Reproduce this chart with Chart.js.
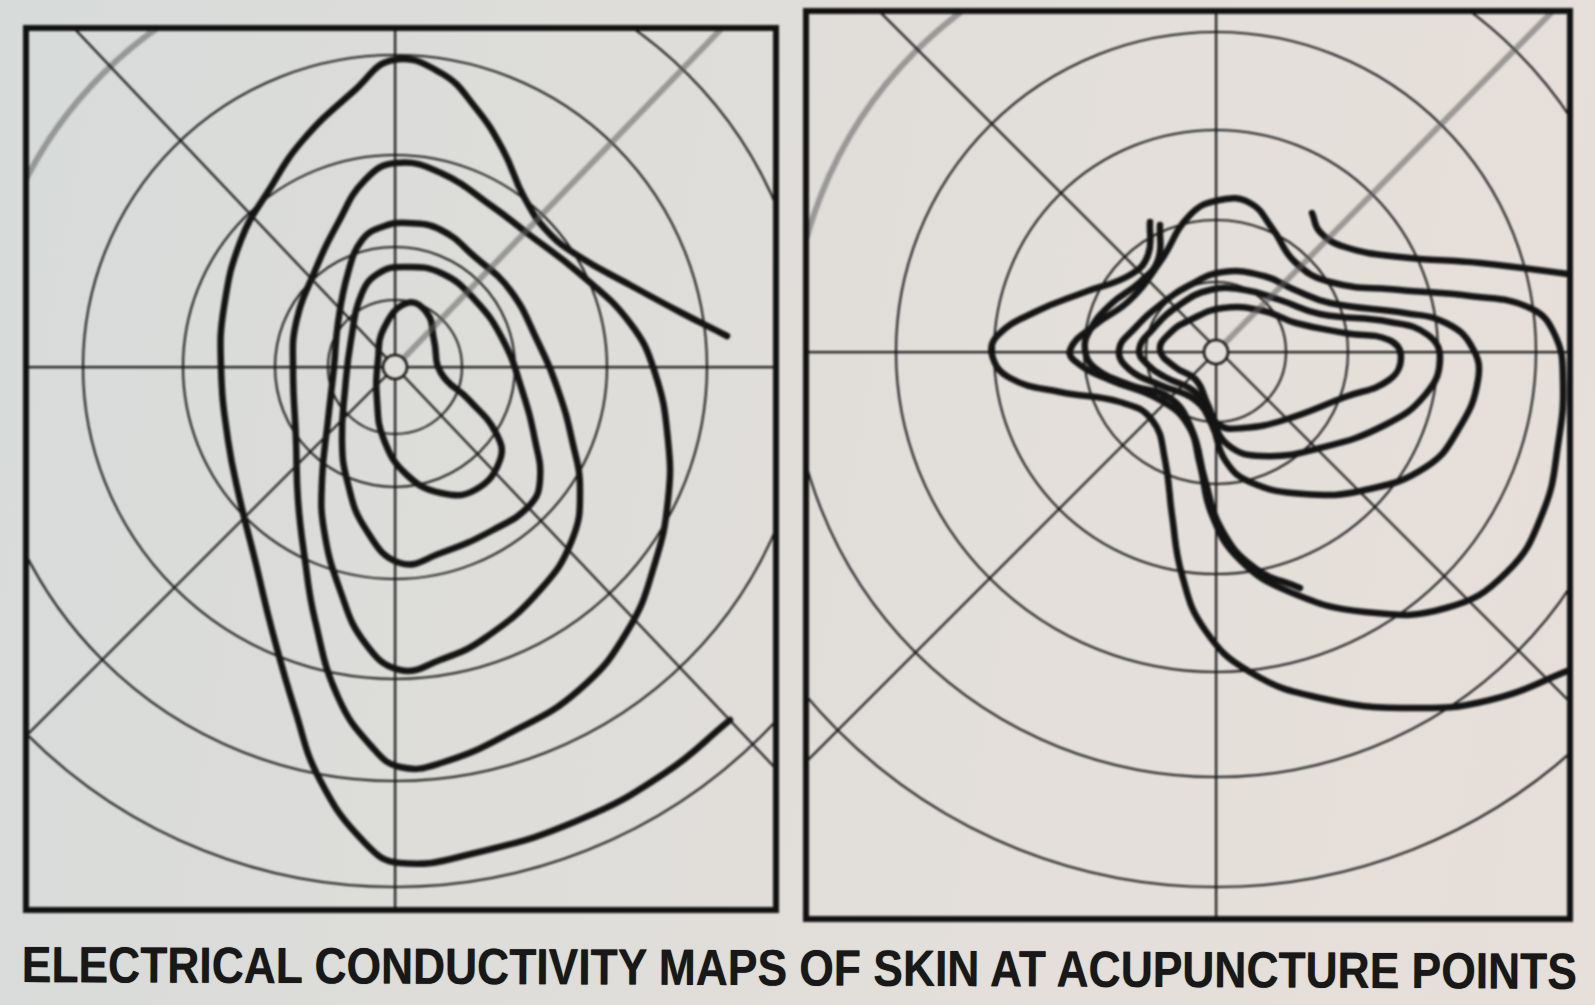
<!DOCTYPE html>
<html>
<head>
<meta charset="utf-8">
<script src="https://cdn.jsdelivr.net/npm/chart.js@4.4.1/dist/chart.umd.min.js"></script>
<style>
  html, body { margin: 0; padding: 0; width: 1595px; height: 1005px; overflow: hidden; }
  body {
    position: relative;
    background: linear-gradient(100deg, #d7dbda 0%, #dedddA 35%, #e4dfda 70%, #e7dfd9 100%);
  }
  .panel { position: absolute; }
  .panel canvas { filter: blur(0.8px); }
  #caption {
    position: absolute; left: 22px; top: 939px;
    font: bold 51px 'Liberation Sans Narrow', 'Liberation Sans', Arial, sans-serif;
    line-height: 51px; white-space: nowrap; color: #181818;
    transform-origin: 0 0; text-shadow: 0 0 1px rgba(0,0,0,0.6);
  }
</style>
</head>
<body>
<div class="panel" id="p1" style="left:23px;top:25px;width:756px;height:888px"><canvas id="c1"></canvas></div>
<div class="panel" id="p2" style="left:803px;top:8px;width:770px;height:914px"><canvas id="c2"></canvas></div>
<div id="caption">ELECTRICAL CONDUCTIVITY MAPS OF SKIN AT ACUPUNCTURE POINTS</div>

<script>
// Map extents in map units (point of measurement at 0,0; y grows upward)
const leftExtent  = { xMin: -37.2, xMax: 38.4, yMin: -54.6, yMax: 34.2 };
const rightExtent = { xMin: -41.3, xMax: 35.7, yMin: -57.0, yMax: 34.4 };

// Reference rings around the point
const leftRings  = [1.2, 6.7, 12, 21.2, 31.2, 41.4, 52];
const rightRings = [1.2, 7, 13.2, 22.2, 32, 42.5, 53.5];

// Diagonal guide lines (end points)
const leftDiagonal      = [[-32.4, 34.2], [38.4, -40.5]];
const leftAntiDiagLow   = [[0, 0], [-37.2, -37.2]];
const leftAntiDiagHigh  = [[0, 0], [33.0, 34.2]];
const rightDiagonal     = [[-34.0, 34.4], [35.7, -35.3]];
const rightAntiDiagLow  = [[0, 0], [-41.3, -41.3]];
const rightAntiDiagHigh = [[0, 0], [34.0, 34.4]];

// Left map: equal-conductivity contours
const leftInner = [[1.2,6.4],[3.2,5.4],[3.9,2.7],[4.6,-0.6],[7.4,-3.3],[10.1,-6.6],[10.5,-9.3],[8.0,-12.3],
  [4.6,-12.6],[1.2,-10.8],[-1.1,-7.3],[-1.8,-3.3],[-1.7,0.7],[-1.1,3.9]];
const leftSecond = [[0.8,10.0],[4.6,9.4],[8.0,6.7],[10.8,2.7],[12.7,-2.3],[14.0,-7.3],[14.5,-11.3],[13.5,-13.8],
  [9.8,-16.3],[4.6,-18.6],[0.5,-19.6],[-3.0,-16.1],[-4.8,-11.3],[-5.3,-7.3],[-5.0,-2.3],[-4.4,2.7],[-3.3,7.4],[-1.6,9.4]];
const leftThird = [[1.2,14.4],[4.6,13.7],[8.0,11.0],[11.5,7.7],[14.2,2.7],[16.3,-2.3],[17.7,-7.3],[18.5,-12.3],
  [17.7,-17.3],[14.5,-22.3],[9.0,-27.1],[4.5,-29.3],[0.5,-30.3],[-3.0,-27.6],[-5.5,-22.3],[-7.1,-16.3],[-7.3,-11.3],
  [-6.7,-5.3],[-6.1,0],[-5.7,4.4],[-4.7,9.4],[-3.3,12.7],[-1.3,14.0]];
const leftFourth = [[0.1,20.4],[4.6,19.4],[9.8,16.0],[13.2,13.4],[18.4,9.4],[23.5,4.4],[26.0,-0.6],[27.3,-7.3],
  [27.3,-13.3],[26.0,-19.6],[23.3,-26.3],[18.4,-32.3],[11.5,-36.6],[4.6,-39.6],[0.5,-40.0],[-2.3,-38.0],[-5.7,-33.0],
  [-8.0,-25.3],[-9.0,-19.3],[-9.7,-13.3],[-9.9,-7.3],[-10.2,0],[-9.9,4.4],[-8.1,9.4],[-5.7,14.4],[-3.0,18.7]];
const leftOuter = [[33.2,3.1],[28.5,5.5],[23.5,8.2],[18.5,11.0],[15.3,13.5],[12.9,17.0],[10.8,21.7],[8.0,26.0],
  [4.6,29.4],[-0.2,30.7],[-4.0,27.7],[-9.2,22.7],[-12.6,17.7],[-15.4,12.7],[-17.1,6.0],[-17.4,0],[-16.7,-7.3],
  [-15.5,-13.3],[-14.0,-19.3],[-12.3,-26.3],[-10.0,-34.3],[-7.5,-41.3],[-3.0,-47.6],[0.5,-49.6],[8.0,-48.6],
  [18.4,-45.3],[27.0,-40.6],[33.5,-35.3]];

// Right map: equal-conductivity contours
const rightInner = [[-5.6,0.2],[-4.6,1.9],[-2.6,3.2],[0.7,4.4],[4.8,4.1],[8.0,2.9],[12.9,1.9],[17.3,1.2],[18.5,-0.5],
  [17.3,-2.8],[12.9,-4.5],[6.8,-6.8],[2.7,-7.6],[0.3,-7.3],[-0.8,-5.3],[-2.0,-2.8],[-4.1,-1.5]];
const rightSecond = [[-7.7,0.2],[-6.4,2.2],[-3.8,4.6],[-0.6,6.2],[2.9,6.2],[6.4,5.2],[10.4,3.8],[17.4,3.0],[21.2,1.7],
  [22.4,-0.8],[20.9,-4.3],[16.9,-7.3],[10.4,-9.6],[4.6,-10.4],[1.2,-9.3],[-0.6,-6.3],[-2.1,-4.0],[-5.1,-2.5],[-6.8,-1.3]];
const rightThird = [[-9.7,0.2],[-8.1,2.4],[-5.6,4.7],[-2.6,6.7],[0.7,8.0],[4.8,7.6],[7.9,6.2],[11.4,4.9],[18.9,3.9],
  [23.0,2.9],[25.6,0.5],[26.2,-2.8],[24.2,-7.8],[21.0,-11.5],[14.9,-13.8],[8.8,-14.2],[3.4,-13.0],[0.9,-10.8],
  [-0.4,-7.3],[-2.1,-4.8],[-5.6,-3.3],[-8.6,-1.8]];
const rightFourth = [[-14.6,0.2],[-12.1,2.7],[-8.6,5.2],[-5.6,9.0],[-2.6,13.7],[0.4,15.2],[3.4,14.9],[5.6,12.4],
  [7.9,9.0],[11.4,7.0],[18.4,6.2],[25.4,5.6],[31.4,4.4],[33.9,1.7],[34.7,-2.8],[34.2,-9.3],[32.7,-16.0],[29.1,-22.0],
  [23.0,-25.6],[14.9,-26.0],[7.4,-24.0],[2.4,-20.8],[-0.4,-16.3],[-1.6,-11.3],[-2.8,-7.3],[-5.6,-4.8],[-10.6,-2.8],[-13.6,-1.3]];
const rightSpur = [[-5.6,12.7],[-5.8,9.2],[-7.6,7.0],[-10.6,4.7],[-12.6,2.2],[-13.1,0.2],[-12.1,-1.6],[-8.6,-3.3],
  [-4.6,-4.6],[-2.4,-7.8],[-1.1,-12.8],[0.6,-17.8],[3.9,-21.6],[8.4,-23.6]];
const rightOuter = [[-6.6,13.0],[-6.8,9.7],[-8.6,7.7],[-13.1,6.0],[-18.1,4.0],[-21.8,1.7],[-22.4,-0.3],[-20.6,-2.6],
  [-15.6,-4.0],[-9.6,-5.0],[-6.4,-6.8],[-5.1,-10.8],[-4.4,-16.3],[-3.4,-22.3],[-1.1,-27.8],[3.4,-32.0],[10.4,-34.6],
  [19.4,-35.6],[27.4,-34.8],[35.9,-31.6]];
const rightHook = [[9.6,13.9],[10.4,12.0],[12.9,10.5],[18.4,9.5],[26.4,8.9],[35.9,7.7]];

// ---- drawing helpers ----
const INK = '#141414';
const RING = '#1a1a1a';
const toXY = arr => arr.map(([x, y]) => ({ x, y }));

function contour(arr, isClosed) {
  let pts = arr;
  if (isClosed) pts = [...arr, arr[0], arr[1], arr[2]];
  const n = pts.length;
  return {
    data: toXY(pts), showLine: true, pointRadius: 0, borderColor: INK, borderWidth: 6.5,
    tension: 0.45, borderCapStyle: 'round', borderJoinStyle: 'round', clip: 0,
    segment: isClosed ? {
      borderColor: c => (c.p0DataIndex === 0 || c.p1DataIndex === n - 1) ? 'rgba(0,0,0,0)' : undefined
    } : undefined
  };
}
function guide(arr, color, width) {
  return { data: toXY(arr), showLine: true, pointRadius: 0, borderColor: color, borderWidth: width, tension: 0, clip: 0 };
}

// Rings, frame and the hollow centre, drawn with the chart's own scales
const mapDecor = {
  id: 'mapDecor',
  beforeDatasetsDraw(chart, args, opts) {
    const { ctx, chartArea: a, scales: { x, y } } = chart;
    const cx = x.getPixelForValue(0), cy = y.getPixelForValue(0);
    ctx.save();
    ctx.beginPath(); ctx.rect(a.left, a.top, a.right - a.left, a.bottom - a.top); ctx.clip();
    opts.rings.forEach((r, i) => {
      const rx = x.getPixelForValue(r) - cx, ry = cy - y.getPixelForValue(r);
      if (i === opts.fadedRing) {
        ctx.strokeStyle = RING; ctx.lineWidth = 2.1;
        ctx.beginPath(); ctx.ellipse(cx, cy, rx, ry, 0, -Math.PI / 2, Math.PI); ctx.stroke();
        ctx.strokeStyle = 'rgba(95,95,95,0.55)'; ctx.lineWidth = 6;
        ctx.beginPath(); ctx.ellipse(cx, cy, rx, ry, 0, Math.PI, Math.PI * 1.5); ctx.stroke();
      } else {
        ctx.strokeStyle = RING; ctx.lineWidth = 2.1;
        ctx.beginPath(); ctx.ellipse(cx, cy, rx, ry, 0, 0, Math.PI * 2); ctx.stroke();
      }
    });
    ctx.restore();
  },
  afterDatasetsDraw(chart, args, opts) {
    const { ctx, chartArea: a, scales: { x, y } } = chart;
    const cx = x.getPixelForValue(0), cy = y.getPixelForValue(0);
    const r0 = x.getPixelForValue(opts.rings[0]) - cx;
    ctx.save();
    ctx.fillStyle = opts.paper;
    ctx.strokeStyle = INK; ctx.lineWidth = 2.5;
    ctx.beginPath(); ctx.arc(cx, cy, r0, 0, Math.PI * 2); ctx.fill(); ctx.stroke();
    ctx.strokeStyle = '#111'; ctx.lineWidth = 6;
    ctx.strokeRect(a.left + 3, a.top + 3, a.right - a.left - 6, a.bottom - a.top - 6);
    ctx.restore();
  }
};

function crossAxis(min, max) {
  return {
    type: 'linear', min, max, display: true,
    ticks: { display: false },
    border: { display: false },
    grid: { color: '#181818', lineWidth: 2.2, drawTicks: false },
    afterBuildTicks: axis => { axis.ticks = [{ value: 0 }]; },
    afterFit: axis => { if (axis.isHorizontal()) axis.height = 0; else axis.width = 0; }
  };
}

function makeMap(canvasId, ext, rings, datasets, paper) {
  return new Chart(document.getElementById(canvasId), {
    type: 'scatter',
    data: { datasets },
    options: {
      responsive: true, maintainAspectRatio: false, animation: false, events: [],
      layout: { padding: 0 },
      plugins: { legend: { display: false }, tooltip: { enabled: false },
        mapDecor: { rings, fadedRing: 5, paper } },
      scales: { x: crossAxis(ext.xMin, ext.xMax), y: crossAxis(ext.yMin, ext.yMax) }
    },
    plugins: [mapDecor]
  });
}

makeMap('c1', leftExtent, leftRings, [
  guide(leftAntiDiagHigh, 'rgba(95,95,95,0.55)', 6),
  guide(leftDiagonal, '#181818', 2.2),
  guide(leftAntiDiagLow, '#181818', 2.2),
  contour(leftInner, true),
  contour(leftSecond, true),
  contour(leftThird, true),
  contour(leftFourth, true),
  contour(leftOuter, false)
], '#e0dedb');

makeMap('c2', rightExtent, rightRings, [
  guide(rightAntiDiagHigh, 'rgba(95,95,95,0.55)', 6),
  guide(rightDiagonal, '#181818', 2.2),
  guide(rightAntiDiagLow, '#181818', 2.2),
  contour(rightInner, true),
  contour(rightSecond, true),
  contour(rightThird, true),
  contour(rightFourth, true),
  contour(rightSpur, false),
  contour(rightOuter, false),
  contour(rightHook, false)
], '#e4dfda');

// Fit the caption to the width of both maps, with the slight slope of the printed line
const cap = document.getElementById('caption');
const w = cap.getBoundingClientRect().width;
cap.style.transform = 'rotate(0.25deg) scaleX(' + (1555 / w).toFixed(4) + ')';
</script>
</body>
</html>
